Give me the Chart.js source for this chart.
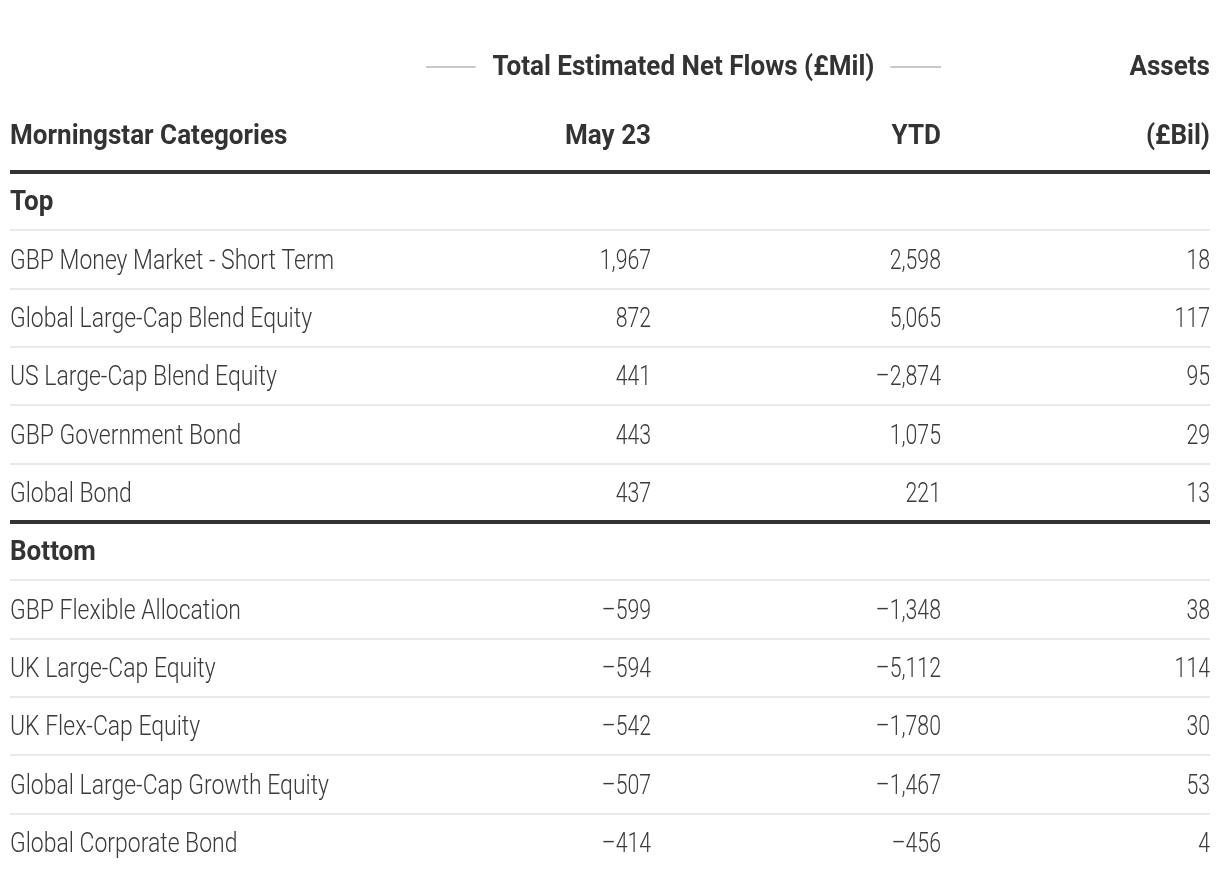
<!DOCTYPE html>
<html>
<head>
<meta charset="utf-8">
<title>UK fund flows by Morningstar category</title>
<script src="https://cdn.jsdelivr.net/npm/chart.js@4/dist/chart.umd.min.js"></script>
<style>
  html, body { margin: 0; padding: 0; background: #fff; }
  .wrap { position: relative; width: 1220px; height: 880px; }
</style>
</head>
<body>
<div class="wrap"><canvas id="flowTable"></canvas></div>
<script>
// table data, section rows carry null values
const rows = [
  'Top',
  'GBP Money Market - Short Term',
  'Global Large-Cap Blend Equity',
  'US Large-Cap Blend Equity',
  'GBP Government Bond',
  'Global Bond',
  'Bottom',
  'GBP Flexible Allocation',
  'UK Large-Cap Equity',
  'UK Flex-Cap Equity',
  'Global Large-Cap Growth Equity',
  'Global Corporate Bond'
];
const sectionRows = ['Top', 'Bottom'];
const mayFlows = [null, 1967, 872, 441, 443, 437, null, -599, -594, -542, -507, -414];
const ytdFlows = [null, 2598, 5065, -2874, 1075, 221, null, -1348, -5112, -1780, -1467, -456];
const assets = [null, 18, 117, 95, 29, 13, null, 38, 114, 30, 53, 4];

const groupTitle = 'Total Estimated Net Flows (£Mil)';
const columnTitles = ['Morningstar Categories', 'May 23', 'YTD', '(£Bil)'];
const assetsTitle = 'Assets';

const INK = '#333333';
const BODY = '#3a3a3a';
const RULE = '#e9e9e9';
const BOLD = { font: '700 28px Roboto', sx: 0.93 };
const LIGHT = { font: '300 28px Roboto', sx: 0.82 };
const NUM = { font: '300 28px Roboto', sx: 0.76 };

const fmt = v => (v < 0 ? '\u2013' : '') + Math.abs(v).toLocaleString('en-US');

function txt(ctx, s, x, y, align, f, color) {
  ctx.save();
  ctx.translate(x, y);
  ctx.scale(f.sx, 1);
  ctx.font = f.font;
  ctx.fillStyle = color;
  ctx.textAlign = align;
  ctx.textBaseline = 'middle';
  ctx.fillText(s, 0, 0);
  ctx.restore();
}

const tableText = {
  id: 'tableText',
  afterDraw(chart, args, opts) {
    const { ctx, chartArea } = chart;
    const xs = chart.scales.x, ys = chart.scales.y;
    const colX = opts.anchors.map(a => xs.getPixelForValue(a));

    // header rows sit above the table body
    const h2 = chartArea.top - 35;
    const h1 = h2 - 69;
    txt(ctx, columnTitles[0], colX[0], h2, 'left', BOLD, INK);
    txt(ctx, columnTitles[1], colX[1], h2, 'right', BOLD, INK);
    txt(ctx, columnTitles[2], colX[2], h2, 'right', BOLD, INK);
    txt(ctx, columnTitles[3], colX[3], h2, 'right', BOLD, INK);
    txt(ctx, assetsTitle, colX[3], h1, 'right', BOLD, INK);

    // grouped header with side rules
    const gL = xs.getPixelForValue(opts.groupStart), gR = colX[2];
    const mid = (gL + gR) / 2;
    ctx.save();
    ctx.font = BOLD.font;
    const half = ctx.measureText(groupTitle).width * BOLD.sx / 2;
    ctx.restore();
    txt(ctx, groupTitle, mid, h1, 'center', BOLD, INK);
    ctx.save();
    ctx.strokeStyle = '#c9c9c9';
    ctx.lineWidth = 2;
    ctx.beginPath();
    ctx.moveTo(gL, h1 - 1); ctx.lineTo(mid - half - 17, h1 - 1);
    ctx.moveTo(mid + half + 16, h1 - 1); ctx.lineTo(gR, h1 - 1);
    ctx.stroke();
    ctx.restore();

    // body rows
    const ds = chart.data.datasets;
    chart.data.labels.forEach((label, i) => {
      const y = ys.getPixelForValue(i) + 2;
      if (sectionRows.includes(label)) {
        txt(ctx, label, colX[0], y, 'left', BOLD, INK);
        return;
      }
      txt(ctx, label, colX[0], y, 'left', LIGHT, BODY);
      ds.forEach((d, j) => {
        const v = d.data[i];
        if (v !== null) txt(ctx, fmt(v), colX[j + 1], y, 'right', NUM, BODY);
      });
    });
  }
};

const thick = i => i === 0 || i === rows.indexOf('Bottom');

new Chart(document.getElementById('flowTable'), {
  type: 'bar',
  data: {
    labels: rows,
    datasets: [
      { label: 'May 23', data: mayFlows },
      { label: 'YTD', data: ytdFlows },
      { label: 'Assets', data: assets }
    ].map(d => ({ ...d, backgroundColor: 'rgba(0,0,0,0)', borderWidth: 0 }))
  },
  options: {
    indexAxis: 'y',
    responsive: true,
    maintainAspectRatio: false,
    animation: false,
    events: [],
    layout: { padding: { top: 172, bottom: 8, left: 10, right: 10 } },
    plugins: {
      legend: { display: false },
      tooltip: { enabled: false },
      tableText: { anchors: [0, 0.5342, 0.7758, 1], groupStart: 0.3467 }
    },
    scales: {
      x: { type: 'linear', min: 0, max: 1, display: false },
      y: {
        type: 'category',
        offset: true,
        border: { display: false },
        ticks: { display: false },
        grid: {
          offset: true,
          drawTicks: false,
          color: c => c.type !== 'tick' ? 'rgba(0,0,0,0)' : (thick(c.index) ? INK : RULE),
          lineWidth: c => c.type === 'tick' && thick(c.index) ? 4 : 2
        }
      }
    }
  },
  plugins: [tableText]
});
</script>
</body>
</html>
